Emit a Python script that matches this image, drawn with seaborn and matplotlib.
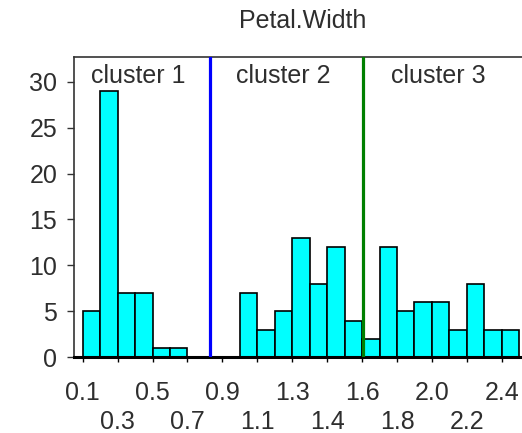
import numpy as np
import pandas as pd
import matplotlib
matplotlib.use("Agg")
import matplotlib.pyplot as plt
import seaborn as sns

# ---- data (iris Petal.Width distribution) ----
widths = [0.1, 0.2, 0.3, 0.4, 0.5, 0.6, 1.0, 1.1, 1.2, 1.3, 1.4,
          1.5, 1.6, 1.7, 1.8, 1.9, 2.0, 2.1, 2.2, 2.3, 2.4, 2.5]
counts = [5, 29, 7, 7, 1, 1, 7, 3, 5, 13, 8,
          12, 4, 2, 12, 5, 6, 6, 3, 8, 3, 3]
tick_labels = ["0.1", "0.3", "0.5", "0.7", "0.9", "1.1", "1.3",
               "1.4", "1.6", "1.8", "2.0", "2.2", "2.4"]
y_ticks = [0, 5, 10, 15, 20, 25, 30]
cluster_names = ["cluster 1", "cluster 2", "cluster 3"]
cut_points = [0.8, 1.64]
cut_colors = ["#0000FF", "#008000"]
title = "Petal.Width"

df = pd.DataFrame({"Petal.Width": np.repeat(widths, counts)})
edges = np.linspace(0.1, 2.5, 26)

sns.set_style("ticks")
plt.rcParams["font.family"] = ["Liberation Sans", "DejaVu Sans"]
FS = 18
TC = "#2e2e2e"

fig = plt.figure(figsize=(5.22, 4.33), dpi=100)
ax = fig.add_axes([74 / 522, 1 - 357.3 / 433, 1 - 74 / 522, (357.3 - 57.3) / 433])

sns.histplot(data=df, x="Petal.Width", bins=edges, ax=ax,
             color="#00FFFF", edgecolor="black", linewidth=1.2, alpha=1)

for xc, col in zip(cut_points, cut_colors):
    ax.axvline(xc, color=col, linewidth=2.3, zorder=3)

px = 181.9  # pixels per unit
x_left = 0.1 - (82.7 - 74) / px
x_right = 0.1 + (522 - 82.7) / px
ax.set_xlim(x_left, x_right)
ax.set_ylim(0, (357.3 - 57.3) / 9.19)

# ticks
tick_pos = edges[::2]
ax.set_xticks(tick_pos[::2])
ax.set_xticklabels(tick_labels[::2])
ax.set_xticks(tick_pos[1::2], minor=True)
ax.set_xticklabels(tick_labels[1::2], minor=True)
ax.tick_params(axis="x", which="major", length=3.8, width=1, pad=13.0,
               labelsize=FS, colors="black", labelcolor=TC)
ax.tick_params(axis="x", which="minor", length=3.8, width=1, pad=34.5,
               labelsize=FS, colors="black", labelcolor=TC)
ax.set_yticks(y_ticks)
ax.tick_params(axis="y", length=5, width=1, pad=7, labelsize=FS,
               colors="#333333", labelcolor=TC)

ax.set_xlabel("")
ax.set_ylabel("")

for s in ["top", "left"]:
    ax.spines[s].set_color("#333333")
    ax.spines[s].set_linewidth(1.2)
ax.spines["right"].set_visible(False)
ax.spines["bottom"].set_color("black")
ax.spines["bottom"].set_linewidth(2.2)

# cluster labels
label_x = [0.406, 1.203, 2.057]
for name, xc in zip(cluster_names, label_x):
    ax.text(xc, 29.9, name, ha="center", va="baseline", fontsize=FS,
            color=TC)

fig.text(302.7 / 522, 1 - 21 / 433, title, ha="center", va="center",
         fontsize=FS, color=TC)

fig.savefig("out.png", dpi=100)
